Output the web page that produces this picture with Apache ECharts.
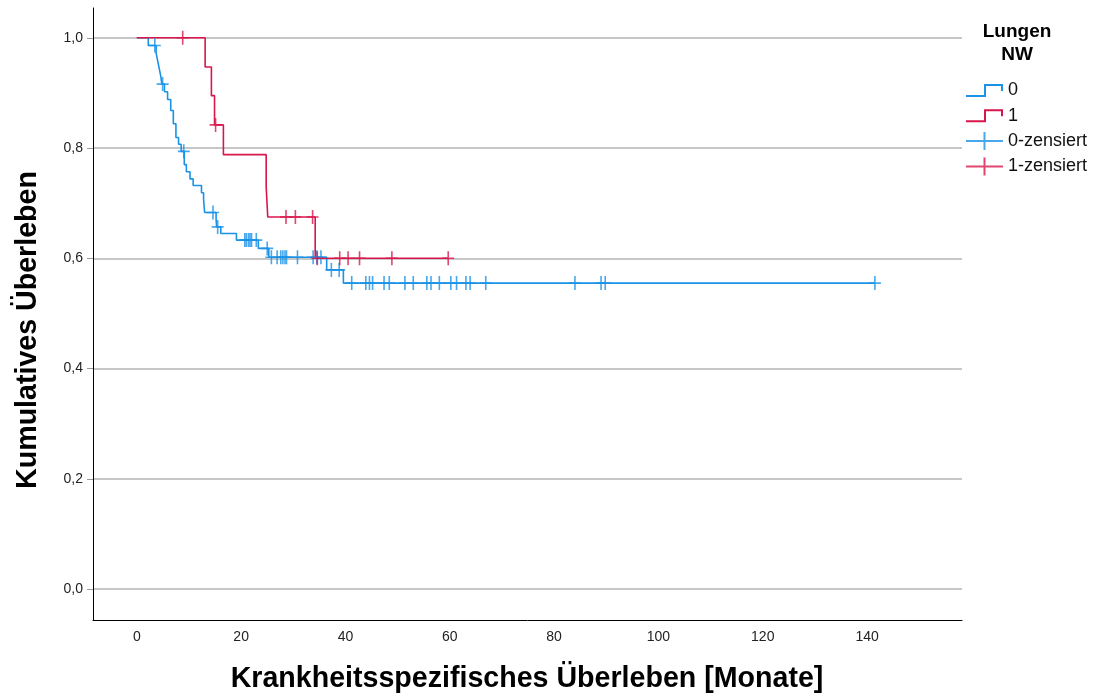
<!DOCTYPE html>
<html>
<head>
<meta charset="utf-8">
<script src="https://cdn.jsdelivr.net/npm/echarts@6/dist/echarts.min.js"></script>
<style>html,body{margin:0;padding:0;background:#fff}#c{width:1099px;height:695px}</style>
</head>
<body>
<div id="c"></div>
<script>
// ---- data ----
const xTickLabels = [0, 20, 40, 60, 80, 100, 120, 140];
const yTickLabels = [0, 0.2, 0.4, 0.6, 0.8, 1.0];

// Group "0": event times and survival after each event
const blueTimes = [0, 2.2, 3.7, 4.0, 4.3, 4.6, 4.8, 5.3, 5.9, 6.5, 7.0, 7.5, 8.0, 8.5, 9.1, 9.5, 10.2, 10.8, 12.4, 12.8, 13.0, 15.2, 15.3, 16.1, 19.1, 23.3, 25.3, 36.4, 39.6];
const blueSurv  = [1.0, 0.986, 0.972, 0.958, 0.944, 0.930, 0.916, 0.902, 0.888, 0.868, 0.844, 0.819, 0.807, 0.794, 0.770, 0.757, 0.744, 0.732, 0.719, 0.707, 0.683, 0.670, 0.657, 0.645, 0.633, 0.618, 0.602, 0.579, 0.555];
const blueCensor = [3.45, 4.95, 9.0, 14.6, 15.5, 20.7, 21.0, 21.4, 21.7, 22.0, 22.9, 25.0, 25.8, 26.9, 27.6, 28.0, 28.4, 28.7, 30.8, 33.8, 34.5, 35.3, 37.3, 38.8, 41.2, 43.9, 44.6, 45.2, 47.4, 48.4, 51.4, 53.0, 55.6, 56.4, 58.0, 60.2, 61.3, 63.1, 63.9, 66.9, 84.0, 89.0, 89.8, 141.5];

// Group "1"
const redTimes = [0, 13.1, 14.3, 14.9, 16.6, 24.8, 25.1, 34.2];
const redSurv  = [1.0, 0.947, 0.895, 0.842, 0.788, 0.730, 0.675, 0.600];
const redCensor = [8.8, 15.1, 28.6, 30.4, 33.7, 34.6, 38.9, 40.5, 42.7, 48.9, 59.7];

const seriesNames = ['0', '1', '0-zensiert', '1-zensiert'];
const legendTitle = 'Lungen\nNW';
const xTitle = 'Krankheitsspezifisches Überleben [Monate]';
const yTitle = 'Kumulatives Überleben';

// ---- helpers ----
function levelAt(times, surv, t) {
  let v = surv[0];
  for (let i = 0; i < times.length; i++) { if (times[i] <= t) v = surv[i]; }
  return v;
}
function stepData(times, surv, censor) {
  const d = times.map((t, i) => [t, surv[i]]);
  const last = Math.max.apply(null, censor);
  if (last > times[times.length - 1]) d.push([last, surv[surv.length - 1]]);
  return d;
}
function censorData(times, surv, censor) {
  return censor.map(t => [t, levelAt(times, surv, t)]);
}

const BLUE = '#1a92e6';
const RED = '#d9164c';
const FONT = 'Liberation Sans, Arial, sans-serif';
const crossSym = 'path://M0,6.2 L5.2,6.2 L5.2,0 L6.8,0 L6.8,6.2 L12,6.2 L12,7.8 L6.8,7.8 L6.8,14 L5.2,14 L5.2,7.8 L0,7.8 Z';
const stepIcon = 'path://M0,11 L18,11 L18,0 L37,0 L37,7 L35,7 L35,2 L20,2 L20,13 L0,13 Z';
const crossIcon = 'path://M0,8 L17.5,8 L17.5,0 L19.5,0 L19.5,8 L37,8 L37,10 L19.5,10 L19.5,18 L17.5,18 L17.5,10 L0,10 Z';

const chart = echarts.init(document.getElementById('c'), null, {renderer: 'canvas'});
chart.setOption({
  animation: false,
  backgroundColor: '#fff',
  grid: {left: 93, right: 137, top: 8, bottom: 75, containLabel: false},
  title: {
    text: legendTitle, left: 1017, top: 20, textAlign: 'center', padding: 0,
    textStyle: {fontFamily: FONT, fontSize: 19, fontWeight: 'bold', color: '#000', lineHeight: 23, align: 'center'}
  },
  legend: {
    orient: 'vertical', left: 966, top: 81.5, padding: 0, itemWidth: 37, itemHeight: 18, itemGap: 7.3,
    selectedMode: false,
    itemStyle: {borderWidth: 0},
    textStyle: {fontFamily: FONT, fontSize: 18, color: '#111', lineHeight: 18},
    data: [
      {name: seriesNames[0], icon: stepIcon},
      {name: seriesNames[1], icon: stepIcon},
      {name: seriesNames[2], icon: crossIcon},
      {name: seriesNames[3], icon: crossIcon}
    ]
  },
  xAxis: {
    type: 'value', min: -8.4, max: 158.2,
    axisLine: {show: true, onZero: false, lineStyle: {color: '#000', width: 1}},
    axisTick: {show: false},
    splitLine: {show: false},
    axisLabel: {
      customValues: xTickLabels, margin: 10, color: '#222',
      fontFamily: 'Liberation Sans Narrow, Arial Narrow, sans-serif', fontSize: 14
    }
  },
  yAxis: {
    type: 'value', min: -0.056, max: 1.054,
    axisLine: {show: true, onZero: false, lineStyle: {color: '#000', width: 1}},
    axisTick: {show: true, customValues: yTickLabels, length: 6, lineStyle: {color: '#999'}},
    splitLine: {show: true, lineStyle: {color: '#b4b4b4', width: 1.5}},
    axisLabel: {
      customValues: yTickLabels, margin: 10, color: '#222', fontFamily: FONT, fontSize: 14,
      formatter: v => v.toFixed(1).replace('.', ',')
    }
  },
  graphic: [
    {type: 'text', x: 527, y: 679, style: {text: xTitle, font: 'bold 28.6px ' + FONT, fill: '#000', textAlign: 'center', textVerticalAlign: 'middle'}},
    {type: 'text', x: 28, y: 330, rotation: Math.PI / 2, style: {text: yTitle, font: 'bold 28.6px ' + FONT, fill: '#000', textAlign: 'center', textVerticalAlign: 'middle'}}
  ],
  series: [
    {name: seriesNames[0], type: 'line', step: 'end', showSymbol: false, symbol: 'none', z: 2,
     color: BLUE, itemStyle: {color: BLUE}, lineStyle: {color: BLUE, width: 1.6},
     data: stepData(blueTimes, blueSurv, blueCensor)},
    {name: seriesNames[1], type: 'line', step: 'end', showSymbol: false, symbol: 'none', z: 3,
     color: RED, itemStyle: {color: RED}, lineStyle: {color: RED, width: 1.6},
     data: stepData(redTimes, redSurv, redCensor)},
    {name: seriesNames[2], type: 'scatter', symbol: crossSym, symbolSize: [12, 14], z: 4,
     color: BLUE, itemStyle: {color: BLUE},
     data: censorData(blueTimes, blueSurv, blueCensor)},
    {name: seriesNames[3], type: 'scatter', symbol: crossSym, symbolSize: [12, 14], z: 5,
     color: RED, itemStyle: {color: RED},
     data: censorData(redTimes, redSurv, redCensor)}
  ]
});
</script>
</body>
</html>
